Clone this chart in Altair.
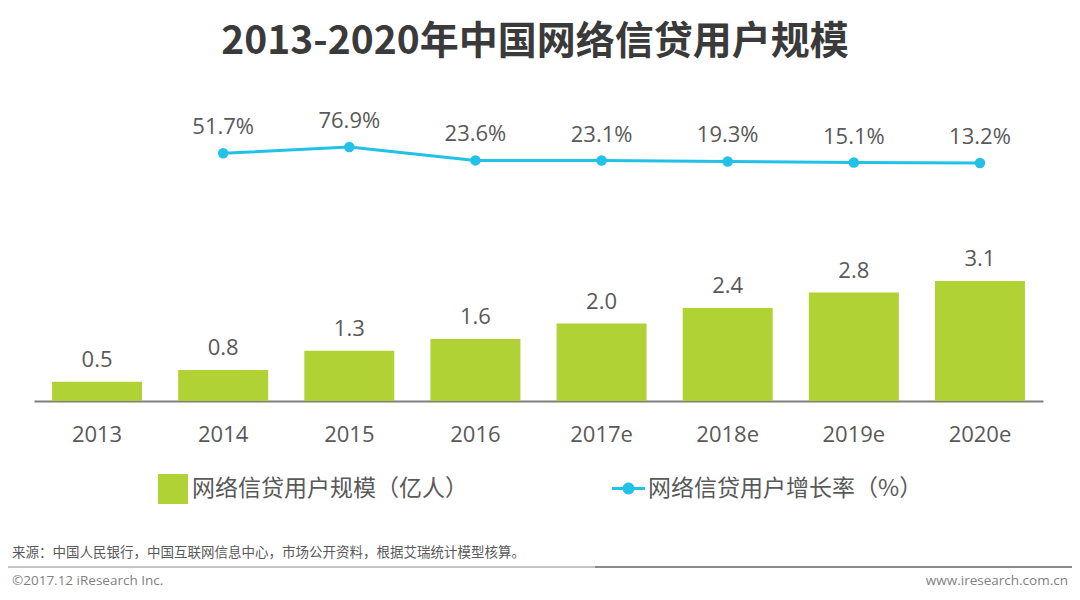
import altair as alt
import pandas as pd

# ---- data ----
years = ["2013", "2014", "2015", "2016", "2017e", "2018e", "2019e", "2020e"]
users = [0.5, 0.8, 1.3, 1.6, 2.0, 2.4, 2.8, 3.1]
growth_years = ["2014", "2015", "2016", "2017e", "2018e", "2019e", "2020e"]
growth = [51.7, 76.9, 23.6, 23.1, 19.3, 15.1, 13.2]

bar_series = "网络信贷用户规模（亿人）"
line_series = "网络信贷用户增长率（%）"
title_text = "2013-2020年中国网络信贷用户规模"
source_text = "来源：中国人民银行，中国互联网信息中心，市场公开资料，根据艾瑞统计模型核算。"
copyright_text = "©2017.12 iResearch Inc."
site_text = "www.iresearch.com.cn"

GREEN = "#b1d235"
BLUE = "#22c1e8"
TEXT = "#595959"
FONT = "Open Sans, Noto Sans CJK SC, sans-serif"
CJK = "Noto Sans CJK SC, sans-serif"

bar_df = pd.DataFrame({"year": years, "users": users, "series": [bar_series] * len(years)})
line_df = pd.DataFrame({"year": growth_years, "growth": growth,
                        "series": [line_series] * len(growth_years)})

x_enc = alt.X(
    "year:N", sort=years,
    scale=alt.Scale(range=[26, 1035], paddingInner=0.2865, paddingOuter=0.143),
    axis=alt.Axis(title=None, labelAngle=0, labelFontSize=22, labelColor=TEXT,
                  labelFont=FONT, labelPadding=23, ticks=False,
                  domainColor="#7f7f7f", domainWidth=2, grid=False),
)

y_bar = alt.Y("users:Q", scale=alt.Scale(domain=[0, 3.1], range=[393, 273],
                                          nice=False, zero=False), axis=None)
y_line = alt.Y("growth:Q", scale=alt.Scale(domain=[13.2, 76.9], range=[155, 139],
                                            nice=False, zero=False), axis=None)

bars = alt.Chart(bar_df).mark_bar(color=GREEN).encode(
    x=x_enc, y=y_bar,
    color=alt.Color("series:N", scale=alt.Scale(range=[GREEN]),
                    legend=alt.Legend(orient="none", legendX=150, legendY=466,
                                      title=None, symbolType="square",
                                      symbolSize=900, symbolStrokeWidth=0,
                                      labelFontSize=23, labelColor=TEXT,
                                      labelFont=CJK, padding=0, labelOffset=4,
                                      labelLimit=0)),
)
bar_text = alt.Chart(bar_df).mark_text(
    baseline="bottom", dy=-10, fontSize=22, color=TEXT, font=FONT
).encode(x=alt.X("year:N", sort=years), y=y_bar,
         text=alt.Text("users:Q", format=".1f"))

bar_layer = alt.layer(bars, bar_text)

LEG_PATH = ("M-1,-0.09L1,-0.09L1,0.09L-1,0.09Z "
            "M0.36,0A0.36,0.36,0,1,1,-0.36,0A0.36,0.36,0,1,1,0.36,0Z")

line = alt.Chart(line_df).mark_line(color=BLUE, strokeWidth=3).encode(
    x=alt.X("year:N", sort=years), y=y_line)
points = alt.Chart(line_df).mark_circle(size=110, opacity=1).encode(
    x=alt.X("year:N", sort=years), y=y_line,
    color=alt.Color("series:N", scale=alt.Scale(range=[BLUE]),
                    legend=alt.Legend(orient="none", legendX=604, legendY=464,
                                      title=None, symbolType=LEG_PATH,
                                      symbolSize=1089, symbolStrokeWidth=0,
                                      symbolOpacity=1,
                                      labelFontSize=23, labelColor=TEXT,
                                      labelFont=CJK, padding=0, labelOffset=3,
                                      labelLimit=0)),
)
line_text = alt.Chart(line_df).transform_calculate(
    label="format(datum.growth, '.1f') + '%'"
).mark_text(baseline="bottom", dy=-14, fontSize=22, color=TEXT, font=FONT).encode(
    x=alt.X("year:N", sort=years), y=y_line, text="label:N")

line_layer = alt.layer(line, points, line_text)

def fixed_text(t, x, y, **kw):
    return alt.Chart(pd.DataFrame({"t": [t]})).mark_text(**kw).encode(
        text="t:N", x=alt.value(x), y=alt.value(y))

title = fixed_text(title_text, 527, 34, fontSize=39, fontWeight="bold",
                   color="#3a3a3a", font=CJK, align="center", baseline="middle")
source = fixed_text(source_text, 4, 545, fontSize=13.5, color=TEXT, font=CJK,
                    align="left", baseline="middle")
copyright_ = fixed_text(copyright_text, 4, 573, fontSize=13.5, color="#7f7f7f",
                        font=FONT, align="left", baseline="middle")
site = fixed_text(site_text, 1060, 573, fontSize=13.5, color="#7f7f7f",
                  font=FONT, align="right", baseline="middle")

rule_df = pd.DataFrame({"k": [1]})
rule_left = alt.Chart(rule_df).mark_rule(color="#b0b0b0", strokeWidth=1.5).encode(
    x=alt.value(-8), x2=alt.value(587), y=alt.value(559))
rule_right = alt.Chart(rule_df).mark_rule(color="#8a8a8a", strokeWidth=2).encode(
    x=alt.value(587), x2=alt.value(1065), y=alt.value(559))

chart = alt.layer(
    bar_layer, line_layer, title, source, copyright_, site, rule_left, rule_right
).resolve_scale(y="independent", color="independent").properties(
    width=1064, height=393,
    autosize=alt.AutoSizeParams(type="none"),
    padding={"left": 0, "top": 0, "right": 0, "bottom": 191},
    background="white",
).configure_view(stroke=None)

chart.save("out.html", embed_options={"renderer": "svg", "actions": False})
